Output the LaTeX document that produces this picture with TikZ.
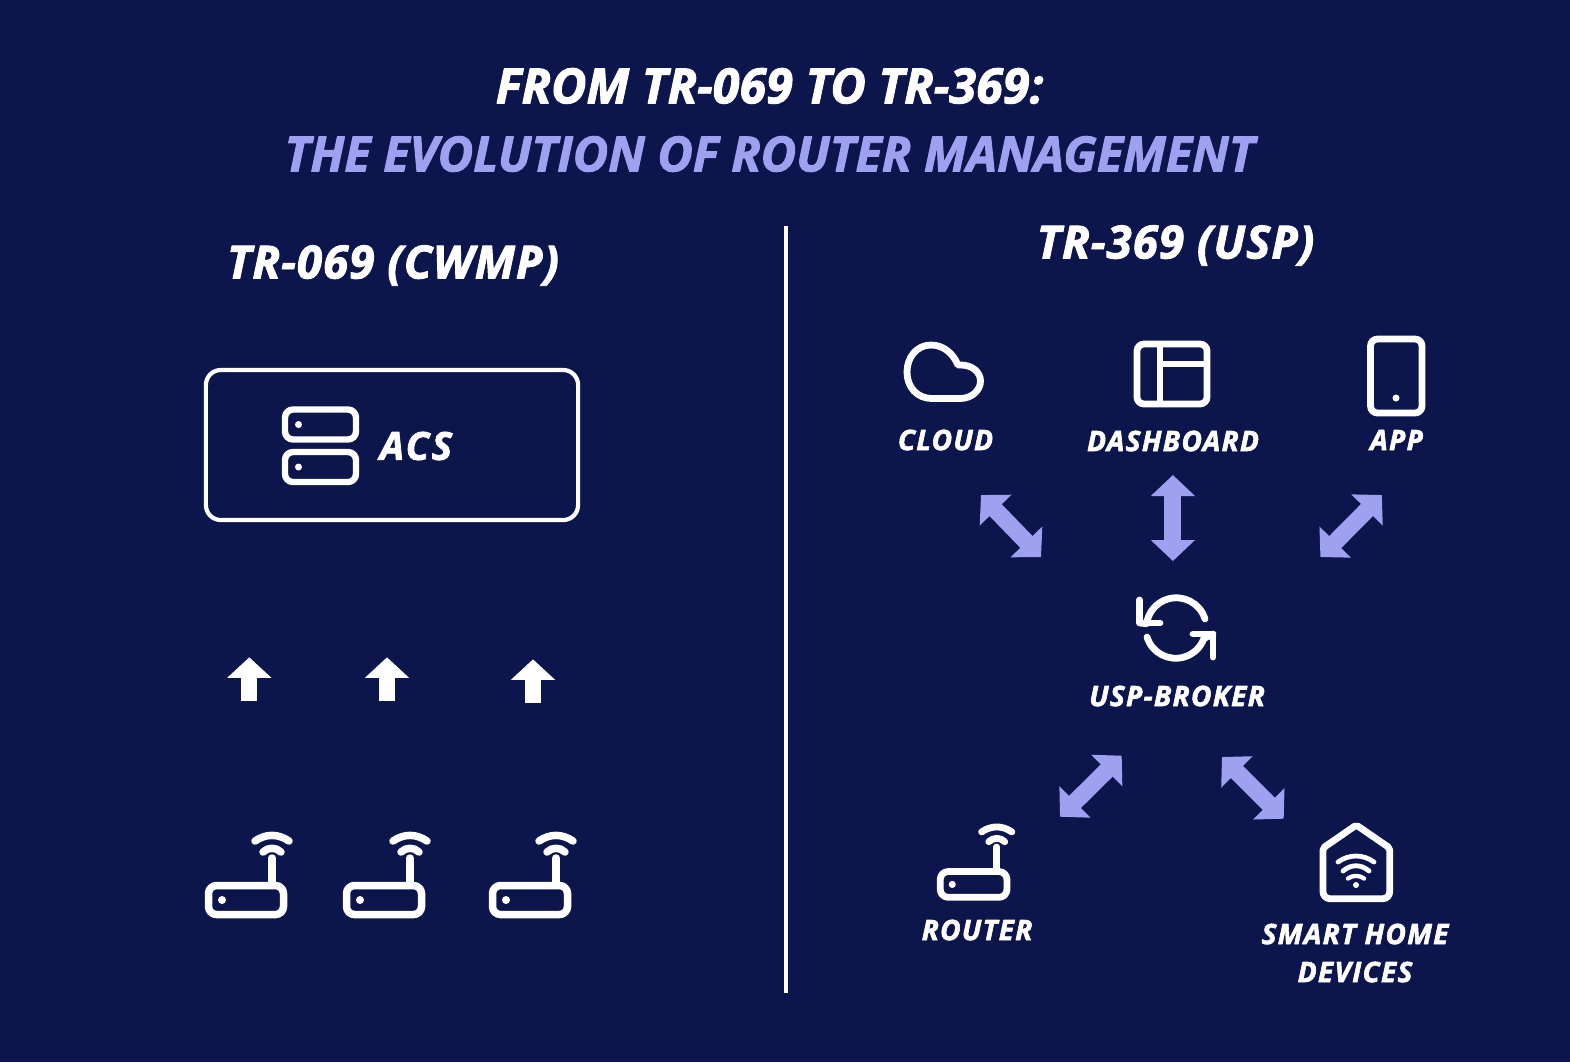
\documentclass[tikz,border=0pt]{standalone}
\usepackage{fontspec}
\setmainfont{Open Sans}[BoldItalicFeatures={FakeBold=2}]
\usetikzlibrary{arrows.meta}
\definecolor{navy}{RGB}{13,21,77}
\definecolor{lavender}{RGB}{158,160,240}

\begin{document}
\begin{tikzpicture}[x=0.01cm,y=-0.01cm,line cap=round,line join=round]
\tikzset{iconline/.style={draw=white,line width=0.068cm},
titletext/.style={text=white,font=\fontsize{13.8pt}{16pt}\selectfont\bfseries\itshape,inner sep=0},
headtext/.style={text=white,font=\fontsize{13pt}{15pt}\selectfont\bfseries\itshape\addfontfeature{LetterSpace=2.2},inner sep=0},
icontext/.style={text=white,font=\fontsize{8pt}{10pt}\selectfont\bfseries\itshape\addfontfeature{LetterSpace=4.4},inner sep=0},
duplex/.style={draw=lavender,line width=0.17cm,line cap=butt,{Triangle[length=0.21cm,width=0.43cm]}-{Triangle[length=0.21cm,width=0.43cm]}},
upward/.style={draw=white,line width=0.157cm,line cap=butt,-{Triangle[length=0.205cm,width=0.43cm]}},
router/.pic={
\draw[rounded corners=0.08cm] (-37.5,-14.5) rectangle (37.5,14.5);
\fill[white] (-24,0) circle (4);
\draw (26,-15) -- (26,-42);
\draw (9,-59) .. controls (20,-66.5) and (32,-66.5) .. (43,-59);
\draw (17,-48) .. controls (22,-53) and (30,-53) .. (35,-48);
},
server/.pic={
\draw[rounded corners=0.08cm] (-35.5,-15) rectangle (35.5,15);
\fill[white] (-22,0) circle (3.5);
}}

\fill[navy] (0,0) rectangle (1570,1062);

% titles
\node[titletext] (title1) at (769.5,86) {FROM TR-069 TO TR-369:};
\node[titletext,text=lavender] (title2) at (769.5,154) {THE EVOLUTION OF ROUTER MANAGEMENT};
\node[headtext] (cwmp) at (393,265.5) {TR-069 (CWMP)};
\node[headtext] (usp) at (1175.5,245.5) {TR-369 (USP)};

\coordinate (divtop) at (785.5,226);
\coordinate (divbot) at (785.5,993);
\draw[white,line width=0.04cm,line cap=butt] (divtop) -- (divbot);

% left side
\node[draw=white,line width=0.042cm,rounded corners=0.15cm,minimum width=3.72cm,minimum height=1.5cm] (acs) at (392,445) {};
\pic[iconline,line width=0.064cm] (srv1) at (320.5,424.5) {server};
\pic[iconline,line width=0.064cm] (srv2) at (320.5,467) {server};
\node[icontext,font=\fontsize{11pt}{13pt}\selectfont\bfseries\itshape\addfontfeature{LetterSpace=6}] (acslabel) at (416,446) {ACS};

\foreach \x/\ybase/\name in {249.3/701/a,387/701/b,533/703/c}{
\coordinate (base\name) at (\x,\ybase);
\coordinate (tip\name) at (\x,\ybase-43.7);
\draw[upward] (base\name) -- (tip\name);
}
\pic[iconline,line width=0.075cm] (rta) at (246,900) {router};
\pic[iconline,line width=0.075cm] (rtb) at (384,900) {router};
\pic[iconline,line width=0.075cm] (rtc) at (530,900) {router};

% right side icons
\draw[iconline] (932,398.5) -- (960,398.5) .. controls (972,398.5) and (980.5,390) .. (980.5,381) .. controls (980.5,372) and (972,365) .. (961,365) -- (958,365) .. controls (953,353) and (943,345) .. (931,345) .. controls (917,345) and (907,357) .. (907,372) .. controls (907,387) and (917,398.5) .. (932,398.5) -- cycle;
\node[icontext] (cloud) at (945.5,440) {CLOUD};

\draw[iconline,rounded corners=0.07cm] (1137,344) rectangle (1207,404);
\draw[iconline,line cap=butt] (1160,344) -- (1160,404);
\draw[iconline,line cap=butt] (1160,364) -- (1207,364);
\node[icontext] (dashboard) at (1173,441) {DASHBOARD};

\draw[iconline,rounded corners=0.07cm] (1370.5,339) rectangle (1422,413);
\fill[white] (1396,398) circle (3.5);
\node[icontext] (app) at (1396.5,440) {APP};

\draw[iconline] (1205,619) arc[start angle=-17,end angle=-172,radius=30] -- (1140,623);
\draw[iconline] (1139.5,600) -- (1139.5,623) -- (1160,623);
\draw[iconline] (1147,637) arc[start angle=163,end angle=20,radius=30] -- (1213,634);
\draw[iconline] (1193,634) -- (1213,634) -- (1213,657);
\node[icontext] (broker) at (1177,696) {USP-BROKER};

\pic[iconline,scale=0.89] (rtd) at (973.6,884.4) {router};
\node[icontext] (routerlabel) at (977,930) {ROUTER};

\draw[iconline,rounded corners=0.02cm] (1356.3,825) -- (1389.7,848) [rounded corners=0.07cm] -- (1389.7,898.7) -- (1323,898.7) [rounded corners=0.02cm] -- (1323,848) -- cycle;
\draw[white,line width=0.048cm] (1338,862) .. controls (1349,854) and (1363,854) .. (1374,862);
\draw[white,line width=0.048cm] (1343,871) .. controls (1351,864) and (1361,864) .. (1369,871);
\draw[white,line width=0.043cm] (1348,878.5) .. controls (1352,875) and (1360,875) .. (1364,878.5);
\fill[white] (1356,885) circle (3);
\node[icontext] (home1) at (1355,934) {SMART HOME};
\node[icontext] (home2) at (1355,972) {DEVICES};

% arrows
\coordinate (cloudtip) at (981,495);
\coordinate (cloudend) at (1041,557);
\coordinate (dashtip) at (1172.9,475);
\coordinate (dashend) at (1172.9,561);
\coordinate (apptip) at (1381.8,495);
\coordinate (append) at (1320.4,557);
\coordinate (rttip) at (1121.7,755.7);
\coordinate (rtend) at (1060,816.7);
\coordinate (hometip) at (1222,757);
\coordinate (homeend) at (1283.7,818.7);
\draw[duplex] (cloudtip) -- (cloudend);
\draw[duplex] (dashtip) -- (dashend);
\draw[duplex] (apptip) -- (append);
\draw[duplex] (rttip) -- (rtend);
\draw[duplex] (hometip) -- (homeend);
\end{tikzpicture}
\end{document}
